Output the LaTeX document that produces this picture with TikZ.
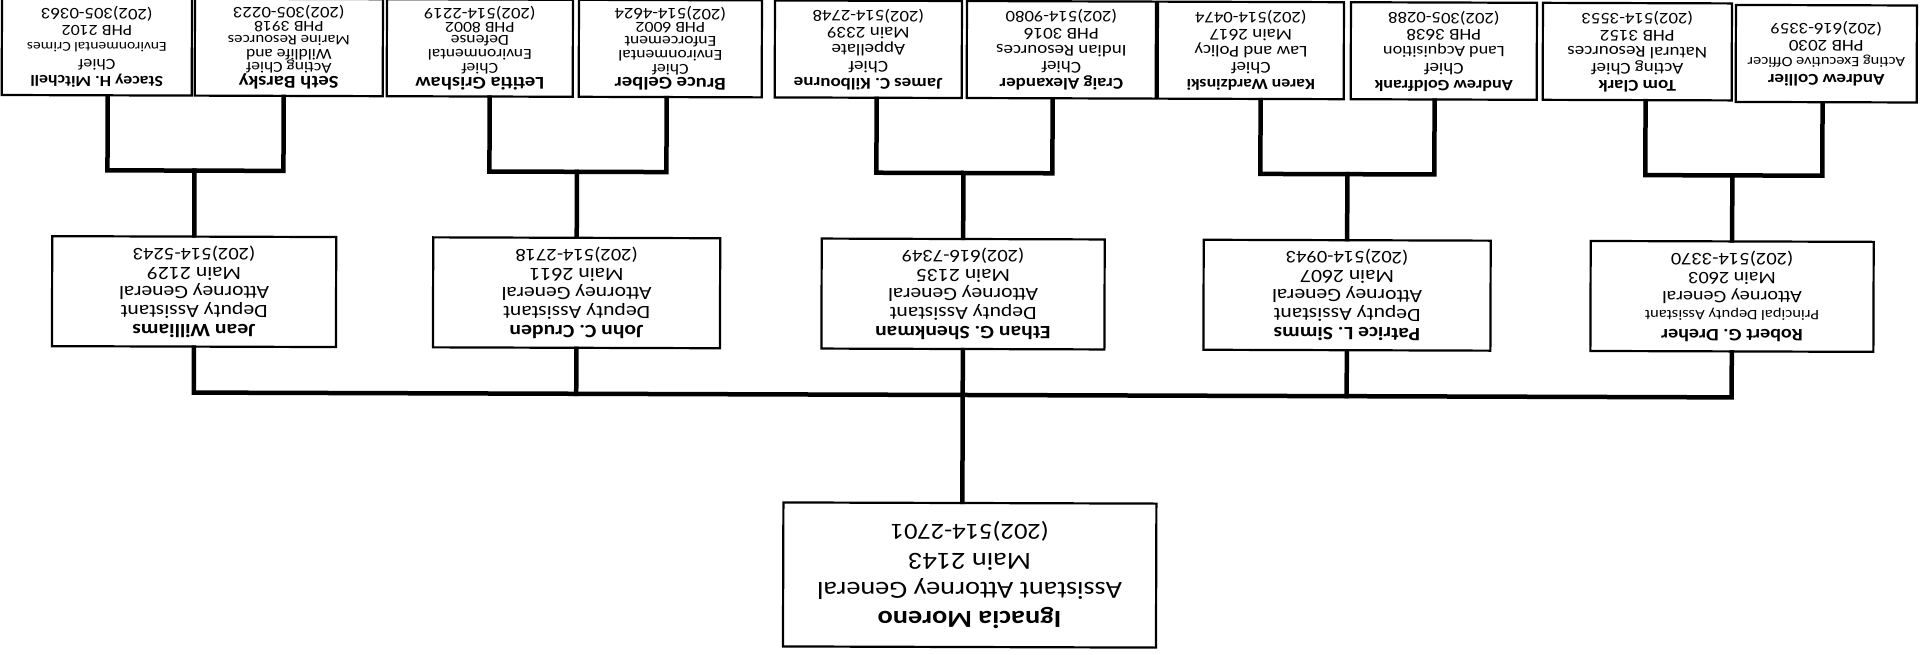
\documentclass[tikz,border=0pt]{standalone}
\usepackage{fontspec}
\setmainfont{Carlito}[FakeStretch=1.15]
% phone numbers and a few long lines get their own sizes
\newcommand\toptel[1]{{\fontsize{16.2}{16}\selectfont #1}}
\newcommand\midtel[1]{{\fontsize{17.8}{19}\selectfont #1}}
\newcommand\headtel[1]{{\fontsize{23}{29}\selectfont #1}}
\newcommand\tname[1]{{\fontsize{18}{13.8}\selectfont\bfseries #1}}
\newcommand\sized[2]{{\fontsize{#1}{16}\selectfont #2}}
\begin{document}
\begin{tikzpicture}[x=1pt,y=-1pt,
  box/.style={draw, line width=2.2pt, rotate=180, align=center, inner sep=0pt, fill=white},
  topbox/.style={box, minimum height=97pt, font=\fontsize{16.5}{16.8}\selectfont},
  tightbox/.style={topbox, font=\fontsize{15.3}{13.8}\selectfont},
  midbox/.style={box, minimum height=110pt, font=\fontsize{18.8}{19}\selectfont},
  headbox/.style={box, minimum width=373pt, minimum height=144pt, font=\fontsize{24.6}{29}\selectfont},
  wire/.style={line width=4.5pt, line cap=rect, line join=miter}
]
\fill[white] (0,0) rectangle (1923,655);
\useasboundingbox (0,0) rectangle (1923,655);

\begin{scope}[rotate=-0.18, transform shape]
% section chiefs
\node[topbox, minimum width=190pt, font=\fontsize{15.5}{16.8}\selectfont] (B1) at (97,46.5)
  {\textbf{Stacey H. Mitchell}\\Chief\\\sized{13.6}{Environmental Crimes}\\PHB 2102\\\toptel{(202)305-0363}};
\node[tightbox, minimum width=188pt] (B2) at (289,46.5)
  {\tname{Seth Barsky}\\Acting Chief\\Wildlife and\\\sized{14.6}{Marine Resources}\\PHB 3918\\\toptel{(202)305-0223}};
\node[tightbox, minimum width=186pt] (B3) at (480,46.5)
  {\tname{Letitia Grishaw}\\Chief\\Environmental\\Defense\\PHB 8002\\\toptel{(202)514-2219}};
\node[tightbox, minimum width=183pt] (B4) at (670.5,46.5)
  {\tname{Bruce Gelber}\\Chief\\Environmental\\Enforcement\\PHB 6002\\\toptel{(202)514-4624}};
\node[topbox, minimum width=187pt] (B5) at (868.5,46.5)
  {\textbf{James C. Kilbourne}\\Chief\\Appellate\\Main 2339\\\toptel{(202)514-2748}};
\node[topbox, minimum width=189pt] (B6) at (1061.5,46.5)
  {\textbf{Craig Alexander}\\Chief\\Indian Resources\\PHB 3016\\\toptel{(202)514-9080}};
\node[topbox, minimum width=186pt] (B7) at (1251,46.5)
  {\sized{15.5}{\textbf{Karen Wardzinski}}\\Chief\\Law and Policy\\Main 2617\\\toptel{(202)514-0474}};
\node[topbox, minimum width=186pt] (B8) at (1444,46.5)
  {\sized{15.8}{\textbf{Andrew Goldfrank}}\\Chief\\\sized{15.8}{Land Acquisition}\\PHB 3638\\\toptel{(202)305-0288}};
\node[topbox, minimum width=189pt] (B9) at (1637.5,46.5)
  {\textbf{Tom Clark}\\Acting Chief\\Natural Resources\\PHB 3152\\\toptel{(202)514-3553}};
\node[topbox, minimum width=181pt] (B10) at (1826.5,48)
  {\textbf{Andrew Collier}\\\sized{14.3}{Acting Executive Officer}\\PHB 2030\\\toptel{(202)616-3359}};

% deputies
\node[midbox, minimum width=284pt] (M1) at (195,291)
  {\textbf{Jean Williams}\\Deputy Assistant\\Attorney General\\Main 2129\\\midtel{(202)514-5243}};
\node[midbox, minimum width=287pt] (M2) at (577.5,291)
  {\textbf{John C. Cruden}\\Deputy Assistant\\Attorney General\\Main 2611\\\midtel{(202)514-2718}};
\node[midbox, minimum width=283pt] (M3) at (964,291)
  {\textbf{Ethan G. Shenkman}\\Deputy Assistant\\Attorney General\\Main 2135\\\midtel{(202)616-7349}};
\node[midbox, minimum width=287pt] (M4) at (1348,291)
  {\textbf{Patrice L. Simms}\\Deputy Assistant\\Attorney General\\Main 2607\\\midtel{(202)514-0943}};
\node[midbox, minimum width=283pt, font=\fontsize{17.5}{19}\selectfont] (M5) at (1733,291)
  {\textbf{Robert G. Dreher}\\{\fontsize{14.4}{19}\selectfont Principal Deputy Assistant}\\Attorney General\\Main 2603\\\midtel{(202)514-3370}};

% head of division
\node[headbox] (H) at (971.5,572)
  {\textbf{Ignacia Moreno}\\Assistant Attorney General\\Main 2143\\\headtel{(202)514-2701}};

% bracket joints
\coordinate (s1) at (108,170);  \coordinate (t1) at (284,170);
\coordinate (s2) at (490,170);  \coordinate (t2) at (667,170);
\coordinate (s3) at (877,170);  \coordinate (t3) at (1053,170);
\coordinate (s4) at (1261,170); \coordinate (t4) at (1435,170);
\coordinate (s5) at (1646,170); \coordinate (t5) at (1823,170);
\coordinate (bus) at (964,392);

% pairs of sections joined to their deputy
\draw[wire] (B1.north -| s1) -- (s1) -- (t1) -- (B2.north -| t1);
\draw[wire] (B3.north -| s2) -- (s2) -- (t2) -- (B4.north -| t2);
\draw[wire] (B5.north -| s3) -- (s3) -- (t3) -- (B6.north -| t3);
\draw[wire] (B7.north -| s4) -- (s4) -- (t4) -- (B8.north -| t4);
\draw[wire] (B9.north -| s5) -- (s5) -- (t5) -- (B10.north -| t5);
\draw[wire] (M1.south |- s1) -- (M1.south);
\draw[wire] (M2.south |- s2) -- (M2.south);
\draw[wire] (M3.south |- s3) -- (M3.south);
\draw[wire] (M4.south |- s4) -- (M4.south);
\draw[wire] (M5.south |- s5) -- (M5.south);

% deputies to the head
\draw[wire] (M1.north) -- (M1.north |- bus) -- (M5.north |- bus) -- (M5.north);
\draw[wire] (M2.north) -- (M2.north |- bus);
\draw[wire] (M3.north) -- (M3.north |- bus);
\draw[wire] (M4.north) -- (M4.north |- bus);
\draw[wire] (M3.north |- bus) -- (H.south -| M3.north);
\end{scope}
\end{tikzpicture}
\end{document}
